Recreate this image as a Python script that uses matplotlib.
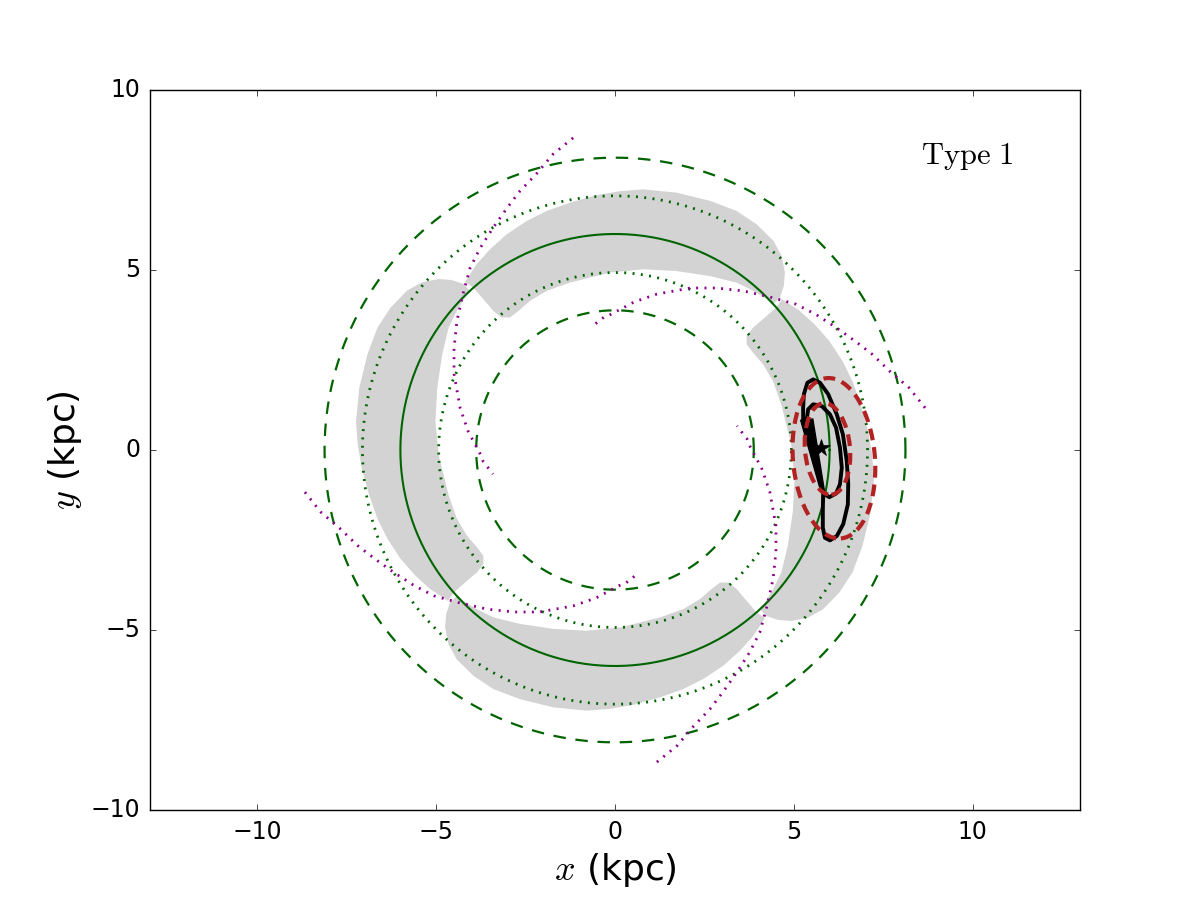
import numpy as np
import matplotlib.pyplot as plt
from matplotlib.patches import Ellipse

plt.style.use('classic')
plt.rcParams['mathtext.fontset'] = 'cm'
plt.rcParams['lines.scale_dashes'] = False

# radii of the reference circles (kpc)
r_solid = 6.0
r_dashed = [3.88, 8.12]
r_dotted = [4.93, 7.06]

# outline of the upper gray arm; the other three are the same arm turned by 90 deg
arm_x = [-4.19, -3.87, -3.49, -3.03, -2.47, -1.91, -1.26, -0.51, 0.14, 0.79, 1.72,
         2.66, 3.40, 3.96, 4.43, 4.66, 4.75, 4.72, 4.61, 4.39,
         4.24, 3.87, 3.40, 2.66, 1.72, 0.79, -0.14, -1.26, -1.91, -2.38, -2.70,
         -2.94, -3.17, -3.40, -3.68, -3.96]
arm_y = [4.67, 5.16, 5.58, 5.99, 6.36, 6.64, 6.87, 7.08, 7.19, 7.24, 7.15,
         6.92, 6.64, 6.27, 5.81, 5.39, 4.92, 4.56, 4.23, 4.03,
         4.19, 4.42, 4.65, 4.83, 4.97, 5.02, 4.93, 4.65, 4.42, 4.14, 3.86,
         3.68, 3.68, 3.86, 4.19, 4.51]

# upper-left magenta spiral segment; repeated every 90 deg
spiral_x = [-1.17, -1.73, -2.18, -2.66, -3.02, -3.41, -3.77, -4.05, -4.25, -4.42,
            -4.50, -4.50, -4.33, -4.11, -3.77, -3.69, -3.41]
spiral_y = [8.67, 8.22, 7.69, 7.19, 6.72, 6.17, 5.61, 5.06, 4.33, 3.58,
            2.83, 2.11, 1.17, 0.53, -0.11, -0.31, -0.67]

# orbit (black)
outer_x = [5.82, 5.81, 5.81, 5.87, 6.01, 6.20, 6.38, 6.51, 6.52, 6.48, 6.37,
           6.20, 5.96, 5.73, 5.54, 5.38, 5.28, 5.26, 5.26]
outer_y = [-1.19, -1.69, -2.16, -2.44, -2.51, -2.39, -2.06, -1.51, -0.95, -0.31, 0.44,
           0.99, 1.55, 1.87, 1.96, 1.87, 1.55, 1.18, 0.85]
inner_x = [5.36, 5.40, 5.54, 5.78, 6.01, 6.18, 6.29, 6.34, 6.29, 6.18, 5.99, 5.87]
inner_y = [0.85, 1.13, 1.27, 1.22, 0.99, 0.62, 0.06, -0.49, -0.95, -1.21, -1.31, -1.23]
wedge_x = [5.19, 5.53, 5.86, 5.76]
wedge_y = [0.83, 0.86, -1.17, -1.17]
star_x, star_y = 5.76, 0.05

# red dashed loops: centre, width, height, tilt
loop_cx = [6.12, 5.94]
loop_cy = [-0.23, 0.03]
loop_w = [2.29, 1.26]
loop_h = [4.47, 2.55]
loop_ang = [5, 5]

fig = plt.figure(figsize=(12, 9), dpi=100)
ax = fig.add_subplot(111)

# gray arms
ax_ = np.array(arm_x)
ay_ = np.array(arm_y)
for k in range(4):
    a = k * np.pi / 2
    ax.fill(ax_ * np.cos(a) - ay_ * np.sin(a), ax_ * np.sin(a) + ay_ * np.cos(a),
            color='lightgray', lw=0, zorder=1)

# circles
t = np.linspace(0, 2 * np.pi, 500)
ax.plot(r_solid * np.cos(t), r_solid * np.sin(t), color='darkgreen', lw=1.5, zorder=2)
for r in r_dashed:
    ax.plot(r * np.cos(t), r * np.sin(t), color='darkgreen', lw=1.6,
            dashes=(9, 7), zorder=2)
for r in r_dotted:
    ax.plot(r * np.cos(t), r * np.sin(t), color='darkgreen', lw=2.0,
            dashes=(1.4, 4.6), zorder=2)

# spiral segments
sx = np.array(spiral_x)
sy = np.array(spiral_y)
for k in range(4):
    a = k * np.pi / 2
    ax.plot(sx * np.cos(a) - sy * np.sin(a), sx * np.sin(a) + sy * np.cos(a),
            color='darkmagenta', lw=2.0, dashes=(1.4, 4.6), zorder=3)

# orbit
ax.plot(outer_x, outer_y, color='k', lw=2.8, zorder=4)
ax.plot(inner_x, inner_y, color='k', lw=2.8, zorder=4)
ax.fill(wedge_x, wedge_y, color='k', lw=1, zorder=4)
ax.plot(star_x, star_y, marker='*', color='k', markersize=13, zorder=4)

for cx, cy, w, h, ang in zip(loop_cx, loop_cy, loop_w, loop_h, loop_ang):
    e = Ellipse((cx, cy), w, h, angle=ang, fill=False, ec='firebrick', lw=3,
                linestyle=(0, (8.5, 5)), zorder=5)
    ax.add_patch(e)

ax.text(8.55, 7.95, r'$\mathrm{Type\ 1}$', fontsize=22)

ax.set_xlim(-13, 13)
ax.set_ylim(-10, 10)
ax.set_xticks([-10, -5, 0, 5, 10])
ax.set_yticks([-10, -5, 0, 5, 10])
ax.tick_params(labelsize=17, pad=7)
ax.set_xlabel(r'$x$ (kpc)', fontsize=26)
ax.set_ylabel(r'$y$ (kpc)', fontsize=26)

plt.savefig('out.png', dpi=100)
